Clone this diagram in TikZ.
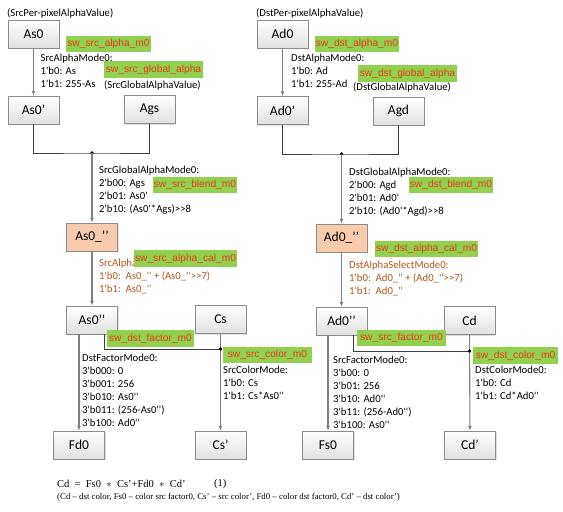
\documentclass[tikz,border=0pt]{standalone}
\usepackage{fontspec}
\setmainfont{Carlito}
\newfontfamily\annf{Carlito}[Ligatures=TeXOff]
\newfontfamily\swf{Liberation Sans}
\newfontfamily\tmsf{Liberation Serif}
\usetikzlibrary{arrows.meta,shadows}
\definecolor{swgreen}{HTML}{92D050}
\definecolor{swred}{HTML}{E8381F}
\definecolor{salmon}{HTML}{F8CBAD}
\definecolor{brownt}{HTML}{B8531A}
\begin{document}
\begin{tikzpicture}[x=1pt,y=-1pt,
  box/.style={draw=black!45, top color=white, bottom color=black!12, minimum width=51pt, minimum height=28pt, inner sep=0pt, font=\fontsize{13.5}{15}\selectfont, drop shadow={opacity=0.25,shadow xshift=1pt,shadow yshift=-1pt}},
  hbox/.style={box, top color=salmon, bottom color=salmon},
  sw/.style={fill=swgreen, text=swred, font=\swf\fontsize{10.2}{12}\selectfont, inner sep=0pt, minimum height=16.5pt},
  ann/.style={anchor=north west, inner sep=0pt, align=left, font=\annf\fontsize{10.7}{13}\selectfont},
  bann/.style={ann, text=brownt},
  arr/.style={draw=black!50, line width=1.1pt, -{Latex[length=5pt,width=4pt]}},
  mline/.style={draw=black!75, line width=0.8pt},
  dotc/.style={fill=black}]
\useasboundingbox (0,0) rectangle (563,512);

% ---------- annotations (left) ----------
\node[ann] (lblSP) at (7,8.5) {(SrcPer-pixelAlphaValue)};
\node[ann] (annA) at (40.5,53.5) {SrcAlphaMode0:\\1'b0: As\\1'b1: 255-As};
\node[ann] (lblSG) at (104,80.5) {(SrcGlobalAlphaValue)};
\node[ann] (annB) at (99,165.5) {SrcGlobalAlphaMode0:\\2'b00: Ags\\2'b01: As0'\\2'b10: (As0'*Ags)>>8};
\node[bann] (annC) at (99,258.5) {SrcAlphaSelectMode0:\\1'b0:\ \ As0\_'' + (As0\_''>>7)\\1'b1:\ \ As0\_''};
\node[ann] (annD) at (82,353.5) {DstFactorMode0:\\3'b000: 0\\3'b001: 256\\3'b010: As0''\\3'b011: (256-As0'')\\3'b100: Ad0''};
\node[ann] (annE) at (223,365.5) {SrcColorMode:\\1'b0: Cs\\1'b1: Cs*As0''};

% ---------- annotations (right) ----------
\node[ann] (lblDP) at (256,8.5) {(DstPer-pixelAlphaValue)};
\node[ann] (annA2) at (291,53.5) {DstAlphaMode0:\\1'b0: Ad\\1'b1: 255-Ad};
\node[ann] (lblDG) at (353,82.5) {(DstGlobalAlphaValue)};
\node[ann] (annB2) at (349,167.5) {DstGlobalAlphaMode0:\\2'b00: Agd\\2'b01: Ad0'\\2'b10: (Ad0'*Agd)>>8};
\node[bann] (annC2) at (349,260.5) {DstAlphaSelectMode0:\\1'b0:\ \ Ad0\_'' + (Ad0\_''>>7)\\1'b1:\ \ Ad0\_''};
\node[ann] (annD2) at (333,355.5) {SrcFactorMode0:\\3'b00: 0\\3'b01: 256\\3'b10: Ad0''\\3'b11: (256-Ad0'')\\3'b100: As0''};
\node[ann] (annE2) at (475,365.5) {DstColorMode0:\\1'b0: Cd\\1'b1: Cd*Ad0''};

% ---------- boxes (left) ----------
\node[box] (As0) at (33.5,34) {As0};
\node[box] (As0p) at (33.5,110) {As0’};
\node[box] (Ags) at (149.5,109.5) {Ags};
\node[hbox] (As0h) at (92,237) {As0\_’’};
\node[box] (As0pp) at (92,320) {As0’’};
\node[box] (Cs) at (220.5,319.5) {Cs};
\node[box] (Fd0) at (79,445) {Fd0};
\node[box] (Csp) at (220.5,445) {Cs’};

% ---------- boxes (right) ----------
\node[box] (Ad0) at (282.5,34) {Ad0};
\node[box] (Ad0p) at (282.5,110.5) {Ad0’};
\node[box] (Agd) at (398.5,111) {Agd};
\node[hbox] (Ad0h) at (341.5,238) {Ad0\_’’};
\node[box] (Ad0pp) at (341.5,321) {Ad0’’};
\node[box] (Cd) at (469.5,320.5) {Cd};
\node[box] (Fs0) at (328,445) {Fs0};
\node[box] (Cdp) at (470,445) {Cd’};

% ---------- connectors (left) ----------
\coordinate (mL) at (92,153);
\coordinate (mC) at (220.5,349);
\draw[arr] (As0) -- (As0p);
\draw[mline] (As0p.south) |- (mL) -| (Ags.south);
\fill[dotc] (mL) circle (1.8);
\draw[arr] (mL) -- (As0h.north);
\draw[arr] (As0h) -- (As0pp);
\draw[arr] ([xshift=-13pt]As0pp.south) -- (Fd0.north);
\draw[mline] ([xshift=12pt]As0pp.south) |- (mC);
\draw[arr] (Cs) -- (Csp);
\fill[dotc] (mC) circle (1.8);

% ---------- connectors (right) ----------
\coordinate (mR) at (341.5,154);
\coordinate (mD) at (469.5,351);
\draw[arr] (Ad0) -- (Ad0p);
\draw[mline] (Ad0p.south) |- (mR) -| (Agd.south);
\fill[dotc] (mR) circle (1.8);
\draw[arr] (mR) -- (Ad0h.north);
\draw[arr] (Ad0h) -- (Ad0pp);
\draw[arr] ([xshift=-13.5pt]Ad0pp.south) -- (Fs0.north);
\draw[mline] ([xshift=12pt]Ad0pp.south) |- (mD);
\draw[arr] (Cd) -- (Cdp);
\fill[dotc] (mD) circle (1.8);

% ---------- green labels (left) ----------
\node[sw, minimum width=85pt] (swA) at (108.5,44) {sw\_src\_alpha\_m0};
\node[sw, minimum width=99pt] (swG) at (153.5,69.5) {sw\_src\_global\_alpha};
\node[sw, minimum width=84pt] (swB) at (195,185) {sw\_src\_blend\_m0};
\node[sw, minimum width=103pt] (swC) at (185.5,258.5) {sw\_src\_alpha\_cal\_m0};
\node[sw, minimum width=87pt] (swD) at (150.5,338.5) {sw\_dst\_factor\_m0};
\node[sw, minimum width=89pt] (swE) at (267.5,355) {sw\_src\_color\_m0};

% ---------- green labels (right) ----------
\node[sw, minimum width=84pt] (swA2) at (357,44) {sw\_dst\_alpha\_m0};
\node[sw, minimum width=99pt] (swG2) at (407.5,73.5) {sw\_dst\_global\_alpha};
\node[sw, minimum width=84pt] (swB2) at (451,185) {sw\_dst\_blend\_m0};
\node[sw, minimum width=103pt] (swC2) at (426.5,249) {sw\_dst\_alpha\_cal\_m0};
\node[sw, minimum width=89pt] (swD2) at (401.5,338) {sw\_src\_factor\_m0};
\node[sw, minimum width=85pt] (swE2) at (515.5,355.5) {sw\_dst\_color\_m0};

% ---------- equation ----------
\node[anchor=west, inner sep=0pt, font=\tmsf\fontsize{10.5}{12}\selectfont] (eq) at (57,484) {Cd\ \ =\ \ Fs0\ \ $\ast$\ \ Cs’+Fd0\ \ $\ast$\ \ Cd’};
\node[anchor=west, inner sep=0pt, font=\tmsf\fontsize{10.5}{12}\selectfont] (eqn) at (214,484) {(1)};
\node[anchor=west, inner sep=0pt, font=\tmsf\fontsize{8.8}{10}\selectfont] (cap) at (57,497.5) {(Cd – dst color, Fs0 – color src factor0, Cs’ – src color’, Fd0 – color dst factor0, Cd’ – dst color’)};
\end{tikzpicture}
\end{document}
